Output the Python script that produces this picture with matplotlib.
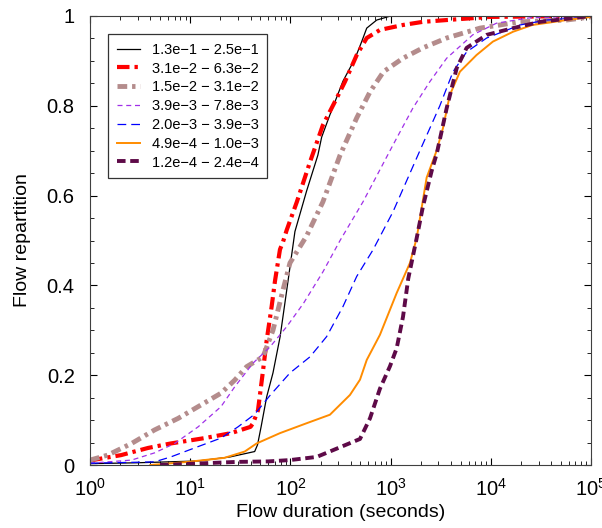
import matplotlib
matplotlib.use('Agg')
import matplotlib.pyplot as plt
from matplotlib.ticker import MultipleLocator, LogLocator, NullFormatter, FuncFormatter

plt.rcParams['font.family'] = ['Liberation Sans', 'DejaVu Sans']
plt.rcParams['mathtext.fontset'] = 'custom'
plt.rcParams['mathtext.rm'] = 'Liberation Sans'
plt.rcParams['mathtext.it'] = 'Liberation Sans'

M = '\u2212'
LABELS = [f'1.3e{M}1 {M} 2.5e{M}1', f'3.1e{M}2 {M} 6.3e{M}2', f'1.5e{M}2 {M} 3.1e{M}2',
          f'3.9e{M}3 {M} 7.8e{M}3', f'2.0e{M}3 {M} 3.9e{M}3', f'4.9e{M}4 {M} 1.0e{M}3',
          f'1.2e{M}4 {M} 2.4e{M}4']

# flow duration (s) / cumulative fraction
black_x = [1, 3, 12, 25, 44, 47, 51, 58, 67, 79, 95, 111, 145, 188, 205, 248, 335, 441, 515, 578, 727, 1000, 1e5]
black_y = [0.003, 0.005, 0.009, 0.018, 0.03, 0.045, 0.085, 0.152, 0.205, 0.286, 0.412, 0.52, 0.61, 0.69,
           0.73, 0.78, 0.855, 0.905, 0.943, 0.973, 0.991, 1.0, 1.0]
red_x = [1, 2.04, 3.8, 6.4, 14, 25.6, 40, 42.4, 47.5, 53.3, 58, 65, 70.2, 78.7, 84.4, 91.8, 116, 157, 211,
         290, 351, 459, 578, 783, 1330, 2100, 3630, 9800, 1e5]
red_y = [0.01, 0.022, 0.038, 0.048, 0.06, 0.071, 0.085, 0.093, 0.122, 0.21, 0.278, 0.353, 0.41, 0.48, 0.497,
         0.523, 0.586, 0.675, 0.757, 0.817, 0.854, 0.913, 0.951, 0.969, 0.980, 0.987, 0.991, 0.998, 1.0]
brown_x = [1, 1.5, 2.6, 4.4, 7.6, 12, 20.3, 27.8, 36.6, 53.3, 67, 84.4, 99, 145, 211, 313, 459, 623, 850,
           1330, 2100, 3630, 7800, 19600, 57000, 1e5]
brown_y = [0.011, 0.022, 0.048, 0.078, 0.104, 0.13, 0.16, 0.189, 0.219, 0.241, 0.30, 0.39, 0.45, 0.51, 0.586,
           0.69, 0.773, 0.831, 0.876, 0.906, 0.929, 0.951, 0.973, 0.987, 0.991, 0.998]
purple_x = [1, 2.6, 4.4, 7, 12, 20.3, 27.8, 42.4, 62.6, 91.8, 135, 211, 313, 530, 986, 1150, 1670, 2470,
            3630, 6600, 11400, 24600, 1e5]
purple_y = [0.004, 0.011, 0.027, 0.048, 0.085, 0.13, 0.174, 0.227, 0.263, 0.308, 0.36, 0.43, 0.50, 0.586,
            0.70, 0.728, 0.795, 0.854, 0.906, 0.958, 0.984, 0.996, 1.0]
blue_x = [1, 4.4, 6.4, 12, 20.3, 30, 44, 62.6, 99, 157, 230, 335, 459, 667, 1057, 1960, 3100, 4200, 5740,
          9100, 19600, 36000, 1e5]
blue_y = [0.004, 0.007, 0.018, 0.041, 0.06, 0.085, 0.113, 0.155, 0.205, 0.241, 0.286, 0.353, 0.42, 0.479,
          0.564, 0.70, 0.80, 0.876, 0.92, 0.951, 0.98, 0.991, 0.998]
orange_x = [4, 9.5, 22, 35, 46, 78.7, 145, 248, 393, 495, 578, 783, 1150, 1560, 1820, 2290, 2880, 3330,
            3900, 4920, 7200, 10500, 16700, 26000, 57000, 1e5]
orange_y = [0.0, 0.007, 0.016, 0.03, 0.048, 0.071, 0.093, 0.112, 0.156, 0.19, 0.234, 0.29, 0.383, 0.45,
            0.505, 0.64, 0.70, 0.75, 0.824, 0.876, 0.913, 0.943, 0.965, 0.98, 0.991, 0.998]
maroon_x = [5, 14, 30, 60, 99, 183, 266, 495, 623, 783, 986, 1150, 1330, 1500, 1820, 2100, 2570, 2900,
            3630, 4570, 5740, 9100, 16700, 31000, 70000, 1e5]
maroon_y = [0.0, 0.004, 0.007, 0.008, 0.011, 0.018, 0.033, 0.058, 0.104, 0.17, 0.22, 0.26, 0.33, 0.415,
            0.505, 0.575, 0.655, 0.695, 0.795, 0.884, 0.929, 0.958, 0.973, 0.987, 0.996, 1.0]

SERIES = [(black_x, black_y, 'black', 0.9, '-'),
          (red_x, red_y, '#FF0000', 3.0, (0, (3, 1.2, 0.8, 1.2))),
          (brown_x, brown_y, '#B48C8C', 3.5, (0, (2, 1, 0.7, 1))),
          (purple_x, purple_y, '#A030E8', 0.9, (0, (4, 3))),
          (blue_x, blue_y, '#0000FF', 0.9, (0, (7, 4))),
          (orange_x, orange_y, '#FF8C00', 1.4, '-'),
          (maroon_x, maroon_y, '#5E0A48', 2.8, (0, (2.2, 1.2)))]

fig = plt.figure(figsize=(6.02, 5.28), dpi=100)
ax = fig.add_axes([0.1495, 0.1193, 0.8322, 0.8504])
for (x, y, c, lw, ls), lab in zip(SERIES, LABELS):
    ax.plot(x, y, color=c, lw=lw, ls=ls, label=lab)

ax.set_xscale('log')
ax.set_xlim(1, 1e5)
ax.set_ylim(0, 1)
ax.yaxis.set_major_locator(MultipleLocator(0.2))
ax.yaxis.set_minor_locator(MultipleLocator(0.05))
ax.yaxis.set_major_formatter(FuncFormatter(lambda v, p: f'{v:g}'))
ax.xaxis.set_major_locator(LogLocator(base=10, numticks=10))
ax.xaxis.set_minor_locator(LogLocator(base=10, subs=range(2, 10), numticks=20))
ax.xaxis.set_minor_formatter(NullFormatter())
ax.tick_params(which='both', direction='in', top=True, right=True, labelsize=14.5)
ax.tick_params(axis='y', pad=11)
ax.tick_params(axis='x', pad=9)
ax.tick_params(which='major', length=5)
ax.tick_params(which='minor', length=3)
for s in ax.spines.values():
    s.set_color('0.25')
ax.set_xlabel('Flow duration (seconds)', fontsize=14, labelpad=3)
ax.set_ylabel('Flow repartition', fontsize=14, labelpad=11)

leg = ax.legend(loc='upper left', bbox_to_anchor=(0.036, 0.96), borderaxespad=0, fontsize=10.5,
                handlelength=1.6, labelspacing=0.33, fancybox=False, borderpad=0.6, handletextpad=0.8)
leg.get_frame().set_edgecolor('black')
leg.get_frame().set_linewidth(0.9)

fig.savefig('out.png', dpi=100)
